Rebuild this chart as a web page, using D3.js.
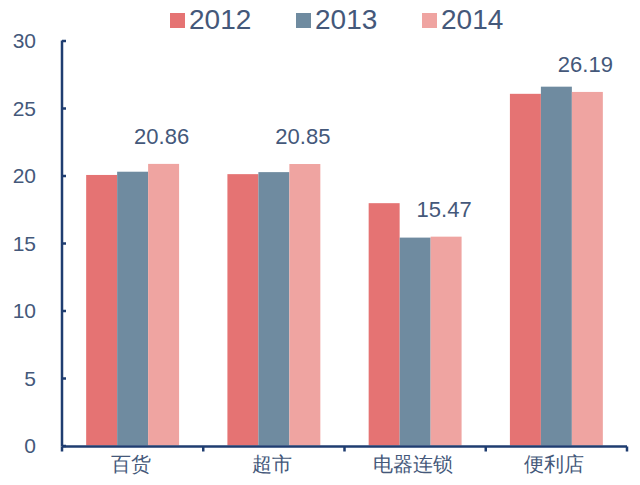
<!DOCTYPE html>
<html>
<head>
<meta charset="utf-8">
<script src="https://cdn.jsdelivr.net/npm/d3@7"></script>
<style>
  html, body { margin: 0; padding: 0; background: #fff; }
  svg { display: block; }
  text { font-family: "Liberation Sans", Arial, sans-serif; }
</style>
</head>
<body>
<svg id="chart" width="640" height="485"></svg>
<script>
// ---- data ----
const categories = ["百货", "超市", "电器连锁", "便利店"];
const seriesNames = ["2012", "2013", "2014"];
const values2012 = [20.04, 20.1, 17.95, 26.05];
const values2013 = [20.28, 20.25, 15.4, 26.58];
const values2014 = [20.86, 20.85, 15.47, 26.19];
const labelValues = [20.86, 20.85, 15.47, 26.19]; // labels shown above 2014 bars
const yTicks = [0, 5, 10, 15, 20, 25, 30];

const seriesValues = [values2012, values2013, values2014];
const colors = ["#E57373", "#6F8BA0", "#EFA4A1"];
const axisColor = "#1F3D70";
const textColor = "#44587A";

const svg = d3.select("#chart");

const x0 = d3.scaleBand().domain(categories).range([62, 627]).padding(0);
const x1 = d3.scaleBand().domain(seriesNames).range([0, x0.bandwidth()])
  .paddingInner(0).paddingOuter(0.78);
const y = d3.scaleLinear().domain([0, 30]).range([445.5, 40.5]);

// bars
const rows = categories.map((c, i) => ({
  cat: c,
  vals: seriesNames.map((s, j) => ({ s, j, v: seriesValues[j][i] }))
}));

const groups = svg.append("g").selectAll("g").data(rows).join("g")
  .attr("transform", d => `translate(${x0(d.cat)},0)`);
groups.selectAll("rect").data(d => d.vals).join("rect")
  .attr("x", d => x1(d.s))
  .attr("width", x1.bandwidth())
  .attr("y", d => y(d.v))
  .attr("height", d => y(0) - y(d.v))
  .attr("fill", d => colors[d.j]);

// data labels above 2014 bars
svg.append("g").selectAll("text").data(categories).join("text")
  .attr("x", (c) => x0(c) + x1("2014") + x1.bandwidth() / 2 - 2)
  .attr("y", (c, i) => y(labelValues[i]) - 20)
  .attr("text-anchor", "middle")
  .attr("font-size", 22)
  .attr("fill", textColor)
  .text(d => "")
  .each(function(c, i) { d3.select(this).text(labelValues[i].toFixed(2)); });

// y axis
const yAxis = d3.axisRight(y).tickValues(yTicks).tickSize(4).tickFormat("");
const gy = svg.append("g").attr("transform", "translate(62,0)").call(yAxis);
gy.select(".domain").attr("stroke", axisColor).attr("stroke-width", 2.5)
  .attr("d", `M0,${y(30)}V${y(0) + 1}`);
gy.selectAll(".tick line").attr("stroke", axisColor).attr("stroke-width", 2.5);

svg.append("g").selectAll("text").data(yTicks).join("text")
  .attr("x", 36)
  .attr("y", d => y(d))
  .attr("dy", "0.36em")
  .attr("text-anchor", "end")
  .attr("font-size", 21)
  .attr("fill", textColor)
  .text(d => d);

// x axis
const boundaries = categories.map(c => x0(c)).concat([x0.range()[1]]);
const gx = svg.append("g");
gx.append("line")
  .attr("x1", x0.range()[0]).attr("x2", x0.range()[1])
  .attr("y1", y(0) + 1).attr("y2", y(0) + 1)
  .attr("stroke", axisColor).attr("stroke-width", 2.5);
gx.selectAll("line.tk").data(boundaries).join("line").attr("class", "tk")
  .attr("x1", d => d).attr("x2", d => d)
  .attr("y1", y(0) + 1).attr("y2", y(0) + 6)
  .attr("stroke", axisColor).attr("stroke-width", 2.5);
gx.selectAll("text").data(categories).join("text")
  .attr("x", d => x0(d) + x0.bandwidth() / 2 - 2)
  .attr("y", 471)
  .attr("text-anchor", "middle")
  .attr("font-size", 20)
  .attr("font-family", "'Noto Sans CJK SC', sans-serif")
  .attr("fill", textColor)
  .text(d => d);

// legend
const legendX = d3.scalePoint().domain(seriesNames).range([170, 422]);
const lg = svg.append("g").selectAll("g").data(seriesNames).join("g")
  .attr("transform", d => `translate(${legendX(d)},0)`);
lg.append("rect").attr("x", 0).attr("y", 13).attr("width", 15).attr("height", 15)
  .attr("fill", (d, i) => colors[i]);
lg.append("text").attr("x", 19).attr("y", 28.5)
  .attr("font-size", 28).attr("fill", textColor).text(d => d);
</script>
</body>
</html>
